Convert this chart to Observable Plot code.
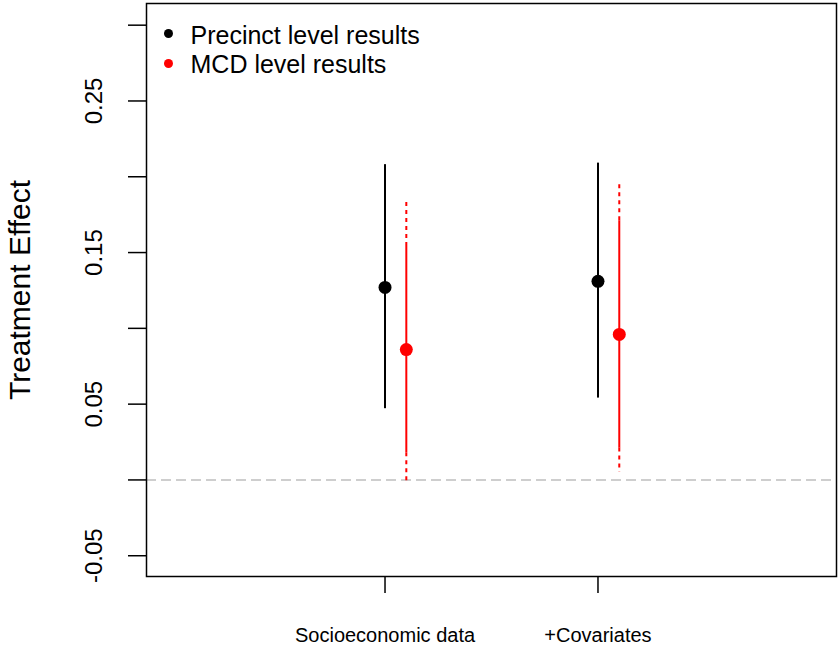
<!DOCTYPE html>
<html>
<head>
<meta charset="utf-8">
<script src="https://cdn.jsdelivr.net/npm/d3@7"></script>
<script src="https://cdn.jsdelivr.net/npm/@observablehq/plot@0.6"></script>
<style>
  html, body { margin: 0; padding: 0; background: #fff; }
  #chart svg { font-family: "Liberation Sans", Arial, sans-serif; background: #fff; }
  #chart svg [aria-label*="axis"] line, #chart svg [aria-label*="axis"] path { stroke-width: 1.5px; stroke: #000; }
</style>
</head>
<body>
<div id="chart"></div>
<script>
// ---- data ----
const categories = ["Socioeconomic data", "+Covariates"];
const catPos = [1, 2];
const precinctEst = [0.127, 0.131];
const precinctLo = [0.047, 0.054];
const precinctHi = [0.208, 0.209];
const mcdEst = [0.086, 0.096];
const mcdLo90 = [0.018, 0.021];
const mcdHi90 = [0.154, 0.171];
const mcdLo95 = [-0.003, 0.005];
const mcdHi95 = [0.184, 0.197];
const mcdOffset = 0.1;
const yTicks = [-0.05, 0, 0.05, 0.1, 0.15, 0.2, 0.25, 0.3];
const yLabelTicks = [-0.05, 0.05, 0.15, 0.25];
const yTickLabels = ["-0.05", "0.05", "0.15", "0.25"];
const legendLabels = ["Precinct level results", "MCD level results"];
const legendColors = ["black", "#ff0000"];
const yTitle = "Treatment Effect";

const precinct = catPos.map((x, i) => ({x, est: precinctEst[i], lo: precinctLo[i], hi: precinctHi[i]}));
const mcd = catPos.map((x, i) => ({x: x + mcdOffset, est: mcdEst[i], lo90: mcdLo90[i], hi90: mcdHi90[i], lo95: mcdLo95[i], hi95: mcdHi95[i]}));
const yLab = yLabelTicks.map((v, i) => ({v, t: yTickLabels[i]}));
const xLab = catPos.map((x, i) => ({x, t: categories[i]}));

const legendMarks = legendLabels.flatMap((lab, i) => [
  Plot.dot([lab], {frameAnchor: "top-left", dx: 22, dy: 30 + i * 30, r: 4.5, fill: legendColors[i], stroke: null}),
  Plot.text([lab], {frameAnchor: "top-left", dx: 44, dy: 32 + i * 29.5, fontSize: 25, fill: "black", textAnchor: "start", lineAnchor: "middle"})
]);

const chart = Plot.plot({
  width: 838,
  height: 650,
  marginLeft: 146,
  marginRight: 2,
  marginTop: 3,
  marginBottom: 74,
  x: {domain: [-0.12, 3.12], ticks: catPos, tickSize: 17, tickFormat: () => "", label: null},
  y: {domain: [-0.0637, 0.3143], ticks: yTicks, tickSize: 18, tickFormat: () => "", label: null},
  marks: [
    Plot.ruleY([0], {stroke: "#bebebe", strokeWidth: 1.5, strokeDasharray: "10,5"}),
    Plot.ruleX(precinct, {x: "x", y1: "lo", y2: "hi", stroke: "black", strokeWidth: 2}),
    Plot.ruleX(mcd, {x: "x", y1: "hi90", y2: "hi95", stroke: "#ff0000", strokeWidth: 2, strokeDasharray: "4,4"}),
    Plot.ruleX(mcd, {x: "x", y1: "lo90", y2: "lo95", stroke: "#ff0000", strokeWidth: 2, strokeDasharray: "4,4"}),
    Plot.ruleX(mcd, {x: "x", y1: "lo90", y2: "hi90", stroke: "#ff0000", strokeWidth: 2}),
    Plot.dot(precinct, {x: "x", y: "est", r: 6.5, fill: "black", stroke: null}),
    Plot.dot(mcd, {x: "x", y: "est", r: 6.5, fill: "#ff0000", stroke: null}),
    Plot.frame({stroke: "black", strokeWidth: 1.5}),
    Plot.text(yLab, {y: "v", text: "t", frameAnchor: "left", dx: -52, rotate: -90, fontSize: 24, fill: "black", textAnchor: "middle", lineAnchor: "middle"}),
    Plot.text([yTitle], {frameAnchor: "left", dx: -126, rotate: -90, fontSize: 30, fill: "black", textAnchor: "middle", lineAnchor: "middle"}),
    Plot.text(xLab, {x: "x", text: "t", frameAnchor: "bottom", dy: 59, fontSize: 20, fill: "black", textAnchor: "middle", lineAnchor: "middle"}),
    ...legendMarks
  ]
});
document.getElementById("chart").appendChild(chart);
</script>
</body>
</html>
